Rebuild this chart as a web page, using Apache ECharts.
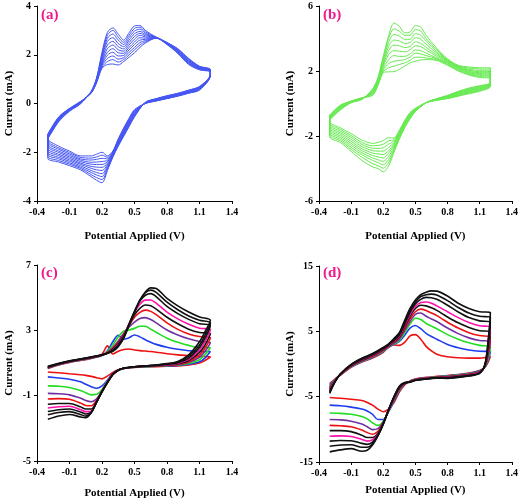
<!DOCTYPE html>
<html><head><meta charset="utf-8">
<script src="https://cdn.jsdelivr.net/npm/echarts@6/dist/echarts.min.js"></script>
<style>html,body{margin:0;padding:0;background:#fff}#c{width:521px;height:501px}</style>
</head><body><div id="c"></div>
<script>
// ---------- potentials (V) ----------
const xTicks = ['-0.4','-0.1','0.2','0.5','0.8','1.1','1.4'];
const aFwdV = [-0.3,-0.2,-0.1,0,0.1,0.15,0.2,0.25,0.3,0.35,0.4,0.45,0.5,0.55,0.6,0.7,0.8,0.9,1.0,1.1,1.2];
const aRevV = [1.2,1.1,1.0,0.9,0.8,0.7,0.6,0.5,0.45,0.4,0.35,0.3,0.25,0.2,0.15,0.1,0,-0.1,-0.2,-0.3];
const bFwdV = aFwdV, bRevV = aRevV;
const cFwdV = [-0.3,-0.2,-0.1,0,0.1,0.2,0.25,0.3,0.35,0.4,0.45,0.5,0.55,0.6,0.65,0.7,0.8,0.9,1.0,1.1,1.2];
const cRevV = [1.2,1.15,1.1,1.0,0.9,0.8,0.7,0.6,0.5,0.4,0.35,0.3,0.25,0.2,0.15,0.1,0.05,0,-0.1,-0.2,-0.3];
const dFwdV = [-0.3,-0.25,-0.2,-0.1,0,0.1,0.2,0.25,0.3,0.35,0.4,0.45,0.5,0.55,0.6,0.65,0.7,0.8,0.9,1.0,1.1,1.2];
const dRevV = [1.2,1.18,1.15,1.1,1.0,0.9,0.8,0.7,0.6,0.5,0.45,0.4,0.35,0.3,0.25,0.2,0.15,0.1,0.05,0,-0.1,-0.2,-0.3];

// ---------- panel (a) currents (mA) ----------
const aFwd = [
[-1.25,-0.55,-0.2,0.08,0.42,0.85,1.45,1.6,1.62,1.58,1.72,1.9,2.08,2.3,2.48,2.68,2.42,2.05,1.6,1.38,1.3],
[-1.27,-0.57,-0.21,0.07,0.43,0.87,1.5,1.72,1.8,1.7,1.8,2.0,2.2,2.4,2.53,2.68,2.43,2.07,1.63,1.4,1.31],
[-1.29,-0.59,-0.22,0.06,0.44,0.89,1.55,1.85,1.95,1.82,1.88,2.1,2.3,2.5,2.58,2.69,2.44,2.09,1.65,1.41,1.32],
[-1.31,-0.61,-0.23,0.05,0.45,0.91,1.6,1.98,2.1,1.95,1.97,2.2,2.42,2.6,2.63,2.69,2.45,2.11,1.68,1.43,1.33],
[-1.33,-0.63,-0.24,0.04,0.46,0.93,1.66,2.1,2.25,2.08,2.06,2.3,2.52,2.7,2.68,2.7,2.46,2.13,1.7,1.44,1.34],
[-1.35,-0.65,-0.26,0.03,0.46,0.95,1.72,2.25,2.4,2.2,2.15,2.4,2.64,2.8,2.73,2.7,2.47,2.15,1.73,1.46,1.35],
[-1.37,-0.67,-0.27,0.02,0.47,0.97,1.8,2.4,2.55,2.33,2.24,2.5,2.75,2.88,2.78,2.7,2.48,2.17,1.75,1.47,1.36],
[-1.39,-0.69,-0.28,0.01,0.48,0.99,1.88,2.55,2.7,2.46,2.33,2.6,2.86,2.96,2.83,2.71,2.49,2.19,1.78,1.49,1.37],
[-1.41,-0.71,-0.29,0.0,0.48,1.01,1.95,2.68,2.85,2.6,2.42,2.7,2.97,3.05,2.88,2.71,2.5,2.21,1.8,1.5,1.38],
[-1.43,-0.73,-0.3,-0.01,0.49,1.03,2.02,2.8,3.0,2.72,2.51,2.8,3.08,3.13,2.94,2.72,2.5,2.23,1.83,1.52,1.39],
[-1.45,-0.75,-0.32,-0.02,0.5,1.05,2.1,2.92,3.1,2.85,2.6,2.9,3.18,3.2,3.0,2.72,2.5,2.25,1.85,1.53,1.4]
];
const aRev = [
[1.15,0.55,0.42,0.3,0.2,0.1,0.0,-0.25,-0.6,-1.0,-1.45,-1.95,-2.15,-2.0,-2.08,-2.15,-2.15,-1.95,-1.75,-1.45],
[1.15,0.57,0.43,0.31,0.21,0.11,0.0,-0.28,-0.64,-1.04,-1.48,-1.98,-2.21,-2.12,-2.19,-2.24,-2.21,-2.01,-1.82,-1.53],
[1.16,0.58,0.45,0.32,0.22,0.12,0.01,-0.31,-0.67,-1.07,-1.51,-2.0,-2.27,-2.25,-2.29,-2.32,-2.27,-2.07,-1.88,-1.61],
[1.16,0.6,0.46,0.34,0.24,0.13,0.01,-0.34,-0.71,-1.11,-1.54,-2.03,-2.33,-2.38,-2.4,-2.41,-2.32,-2.13,-1.95,-1.69],
[1.17,0.61,0.47,0.35,0.25,0.14,0.02,-0.37,-0.74,-1.14,-1.57,-2.05,-2.39,-2.5,-2.5,-2.49,-2.38,-2.19,-2.01,-1.77],
[1.17,0.63,0.49,0.36,0.26,0.15,0.02,-0.4,-0.78,-1.18,-1.6,-2.08,-2.45,-2.62,-2.61,-2.58,-2.44,-2.25,-2.08,-1.85],
[1.18,0.64,0.5,0.37,0.27,0.16,0.03,-0.43,-0.81,-1.21,-1.63,-2.1,-2.51,-2.75,-2.72,-2.66,-2.49,-2.31,-2.14,-1.93],
[1.18,0.66,0.51,0.38,0.28,0.17,0.03,-0.46,-0.85,-1.25,-1.66,-2.13,-2.57,-2.88,-2.83,-2.75,-2.55,-2.37,-2.21,-2.01],
[1.19,0.67,0.52,0.4,0.3,0.18,0.04,-0.49,-0.88,-1.28,-1.69,-2.15,-2.63,-3.0,-2.93,-2.83,-2.61,-2.43,-2.27,-2.09],
[1.19,0.69,0.54,0.41,0.31,0.19,0.04,-0.52,-0.92,-1.32,-1.72,-2.18,-2.69,-3.12,-3.04,-2.92,-2.66,-2.49,-2.34,-2.17],
[1.2,0.7,0.55,0.42,0.32,0.2,0.05,-0.55,-0.95,-1.35,-1.75,-2.2,-2.75,-3.25,-3.15,-3.0,-2.72,-2.55,-2.4,-2.25]
];

// ---------- panel (b) ----------
const bFwd = [
[-0.7,-0.1,0.15,0.35,0.5,1.1,1.9,1.95,1.96,2.1,2.3,2.5,2.6,2.68,2.7,2.65,2.35,2.0,1.75,1.6,1.55],
[-0.73,-0.13,0.14,0.34,0.55,1.15,1.95,2.2,2.3,2.4,2.5,2.65,2.85,2.85,2.8,2.7,2.4,2.05,1.8,1.66,1.62],
[-0.77,-0.17,0.13,0.33,0.6,1.2,2.05,2.45,2.6,2.65,2.7,2.85,3.1,3.05,2.95,2.75,2.45,2.1,1.85,1.72,1.69],
[-0.8,-0.2,0.12,0.32,0.65,1.25,2.15,2.7,2.95,2.9,2.9,3.05,3.3,3.25,3.1,2.8,2.5,2.15,1.9,1.78,1.76],
[-0.83,-0.23,0.11,0.31,0.7,1.3,2.3,3.0,3.25,3.22,3.18,3.3,3.55,3.5,3.3,2.9,2.55,2.2,1.95,1.84,1.83],
[-0.87,-0.27,0.09,0.29,0.72,1.35,2.4,3.25,3.6,3.55,3.45,3.5,3.8,3.7,3.45,3.0,2.6,2.22,2.0,1.9,1.9],
[-0.9,-0.3,0.08,0.28,0.75,1.4,2.5,3.5,3.9,3.85,3.7,3.75,4.05,3.95,3.65,3.1,2.62,2.26,2.05,1.96,1.97],
[-0.93,-0.33,0.07,0.27,0.8,1.45,2.65,3.75,4.25,4.15,3.95,3.95,4.3,4.2,3.85,3.2,2.66,2.3,2.1,2.04,2.05],
[-0.97,-0.37,0.06,0.26,0.85,1.5,2.8,4.0,4.6,4.45,4.2,4.2,4.55,4.45,4.0,3.3,2.7,2.33,2.18,2.12,2.13],
[-1.0,-0.4,0.05,0.25,0.9,1.6,2.9,4.15,4.95,4.75,4.35,4.4,4.8,4.7,4.2,3.4,2.75,2.35,2.25,2.2,2.2]
];
const bRev = [
[1.05,0.75,0.6,0.45,0.3,0.2,0.05,-0.3,-0.55,-1.05,-1.65,-2.12,-2.1,-2.28,-2.4,-2.45,-2.25,-1.85,-1.5,-1.12],
[1.08,0.79,0.64,0.48,0.32,0.21,0.05,-0.32,-0.6,-1.1,-1.71,-2.22,-2.3,-2.5,-2.58,-2.6,-2.4,-1.97,-1.6,-1.22],
[1.1,0.83,0.68,0.52,0.34,0.22,0.05,-0.34,-0.64,-1.15,-1.77,-2.31,-2.5,-2.72,-2.76,-2.75,-2.52,-2.09,-1.7,-1.32],
[1.13,0.87,0.72,0.55,0.37,0.23,0.05,-0.37,-0.69,-1.2,-1.83,-2.41,-2.7,-2.93,-2.93,-2.9,-2.65,-2.21,-1.8,-1.42],
[1.16,0.91,0.76,0.58,0.39,0.24,0.05,-0.39,-0.73,-1.25,-1.89,-2.5,-2.9,-3.14,-3.1,-3.05,-2.78,-2.33,-1.9,-1.52],
[1.18,0.94,0.79,0.62,0.41,0.26,0.05,-0.41,-0.77,-1.3,-1.96,-2.6,-3.05,-3.35,-3.28,-3.2,-2.9,-2.45,-2.0,-1.62],
[1.21,0.98,0.83,0.65,0.43,0.27,0.05,-0.43,-0.82,-1.35,-2.02,-2.7,-3.25,-3.56,-3.46,-3.35,-3.03,-2.57,-2.1,-1.72],
[1.24,1.02,0.87,0.68,0.46,0.28,0.05,-0.46,-0.86,-1.4,-2.08,-2.8,-3.45,-3.77,-3.64,-3.5,-3.15,-2.7,-2.2,-1.83],
[1.27,1.06,0.91,0.72,0.48,0.29,0.05,-0.48,-0.91,-1.45,-2.14,-2.9,-3.65,-3.98,-3.82,-3.7,-3.3,-2.82,-2.3,-1.94],
[1.3,1.1,0.95,0.75,0.5,0.3,0.05,-0.5,-0.95,-1.5,-2.2,-3.0,-3.85,-4.2,-4.0,-3.9,-3.5,-2.95,-2.4,-2.05]
];

// ---------- panel (c) ----------
const cFwd = [
[0.66,0.88,1.04,1.16,1.28,1.55,2.05,1.55,1.72,1.83,1.86,1.8,1.76,1.73,1.7,1.66,1.57,1.5,1.45,1.4,1.38],
[0.67,0.89,1.05,1.17,1.29,1.46,1.75,2.3,2.7,2.45,2.55,2.71,2.6,2.42,2.27,2.14,1.96,1.84,1.75,1.7,1.7],
[0.68,0.9,1.06,1.18,1.3,1.47,1.7,2.1,2.6,2.95,3.02,3.12,3.25,3.25,3.07,2.88,2.52,2.27,2.08,1.95,1.95],
[0.69,0.91,1.07,1.19,1.31,1.47,1.65,1.95,2.35,2.8,3.2,3.5,3.72,3.78,3.66,3.46,3.02,2.72,2.48,2.32,2.25],
[0.7,0.92,1.08,1.2,1.32,1.48,1.63,1.9,2.25,2.75,3.3,3.8,4.1,4.24,4.16,3.96,3.46,3.06,2.78,2.62,2.55],
[0.72,0.93,1.09,1.21,1.33,1.48,1.62,1.85,2.2,2.7,3.35,3.95,4.35,4.55,4.5,4.3,3.8,3.4,3.07,2.87,2.8],
[0.73,0.94,1.1,1.22,1.34,1.49,1.61,1.8,2.15,2.65,3.4,4.1,4.6,4.85,4.86,4.66,4.12,3.7,3.37,3.13,3.05],
[0.75,0.95,1.11,1.23,1.35,1.49,1.6,1.78,2.1,2.6,3.4,4.15,4.8,5.15,5.25,5.07,4.46,4.02,3.67,3.4,3.3],
[0.77,0.96,1.12,1.24,1.36,1.5,1.6,1.75,2.05,2.55,3.35,4.15,4.85,5.3,5.46,5.32,4.72,4.26,3.88,3.62,3.45],
[0.8,0.98,1.13,1.25,1.37,1.5,1.6,1.72,2.0,2.5,3.3,4.1,4.85,5.35,5.6,5.56,4.96,4.5,4.12,3.82,3.62]
];
const cRev = [
[1.38,1.15,1.0,0.88,0.82,0.8,0.78,0.76,0.73,0.66,0.58,0.42,0.2,0.03,0.1,0.18,0.24,0.28,0.34,0.4,0.45],
[1.7,1.3,1.08,0.92,0.85,0.82,0.8,0.77,0.74,0.66,0.56,0.35,-0.05,-0.4,-0.55,-0.45,-0.3,-0.15,0.0,0.08,0.15],
[1.95,1.5,1.2,0.97,0.88,0.84,0.81,0.78,0.74,0.66,0.56,0.33,-0.12,-0.62,-0.92,-0.95,-0.82,-0.68,-0.5,-0.42,-0.4],
[2.25,1.7,1.35,1.03,0.9,0.85,0.82,0.79,0.75,0.67,0.56,0.32,-0.15,-0.7,-1.2,-1.37,-1.3,-1.15,-0.95,-0.88,-0.86],
[2.55,1.9,1.5,1.08,0.92,0.86,0.83,0.8,0.76,0.68,0.56,0.31,-0.17,-0.73,-1.3,-1.62,-1.6,-1.45,-1.22,-1.18,-1.2],
[2.8,2.1,1.65,1.15,0.95,0.88,0.84,0.8,0.76,0.68,0.56,0.31,-0.18,-0.74,-1.35,-1.82,-1.82,-1.68,-1.48,-1.48,-1.53],
[3.05,2.3,1.8,1.22,0.98,0.9,0.85,0.81,0.77,0.68,0.56,0.3,-0.19,-0.75,-1.38,-1.95,-1.98,-1.85,-1.65,-1.68,-1.76],
[3.3,2.5,1.95,1.3,1.02,0.92,0.86,0.82,0.77,0.68,0.56,0.3,-0.2,-0.76,-1.4,-2.02,-2.12,-2.0,-1.82,-1.86,-1.97],
[3.45,2.7,2.1,1.4,1.06,0.94,0.87,0.82,0.77,0.68,0.56,0.3,-0.2,-0.76,-1.4,-2.05,-2.25,-2.15,-1.98,-2.03,-2.17],
[3.62,2.9,2.3,1.5,1.1,0.96,0.88,0.83,0.77,0.68,0.56,0.3,-0.2,-0.76,-1.4,-2.05,-2.35,-2.3,-2.15,-2.25,-2.45]
];

// ---------- panel (d) ----------
const dFwd = [
[-3.0,-2.3,-1.7,-0.5,0.3,0.9,1.8,2.55,2.9,2.85,3.3,4.3,4.5,3.8,2.7,2.0,1.5,1.1,0.95,0.9,0.9,1.15],
[-3.2,-2.35,-1.68,-0.45,0.35,0.98,1.9,2.6,3.0,3.45,4.4,5.5,5.9,5.4,4.7,4.2,3.8,3.0,2.5,2.15,1.95,1.9],
[-3.4,-2.4,-1.66,-0.4,0.4,1.05,1.98,2.65,3.1,3.6,4.8,6.1,7.0,6.8,6.2,5.8,5.4,4.5,3.8,3.25,2.85,2.65],
[-3.55,-2.45,-1.64,-0.35,0.46,1.12,2.05,2.7,3.2,3.8,5.1,6.5,7.6,7.8,7.3,6.9,6.5,5.5,4.65,4.0,3.6,3.4],
[-3.7,-2.5,-1.62,-0.3,0.52,1.2,2.12,2.75,3.3,4.0,5.4,6.9,8.0,8.4,8.2,7.8,7.4,6.4,5.5,4.8,4.35,4.15],
[-3.85,-2.55,-1.6,-0.25,0.58,1.28,2.2,2.8,3.4,4.15,5.7,7.3,8.5,9.0,8.9,8.6,8.2,7.2,6.3,5.6,5.1,4.9],
[-4.0,-2.6,-1.58,-0.2,0.65,1.36,2.28,2.87,3.5,4.3,5.9,7.6,8.8,9.4,9.5,9.3,8.9,8.0,7.1,6.35,5.85,5.65],
[-4.15,-2.65,-1.55,-0.15,0.72,1.44,2.36,2.94,3.6,4.45,6.1,7.9,9.2,9.9,10.2,10.15,9.9,9.0,7.95,7.1,6.6,6.4],
[-4.3,-2.7,-1.52,-0.1,0.8,1.52,2.44,3.02,3.75,4.6,6.4,8.2,9.5,10.3,10.6,10.7,10.55,9.7,8.65,7.8,7.3,7.15],
[-4.5,-2.75,-1.5,-0.05,0.88,1.6,2.55,3.1,3.9,4.8,6.7,8.5,9.8,10.6,11.0,11.2,11.15,10.4,9.3,8.5,8.0,7.9]
];
const dRev = [
[1.15,0.3,-0.5,-1.0,-1.4,-1.6,-1.75,-1.9,-2.05,-2.3,-2.6,-3.2,-4.3,-5.9,-6.9,-7.3,-6.9,-6.3,-5.9,-5.6,-5.4,-5.25,-5.13],
[1.9,0.6,-0.5,-1.05,-1.45,-1.65,-1.8,-1.95,-2.1,-2.35,-2.62,-3.1,-4.1,-5.7,-7.3,-8.5,-8.5,-7.7,-7.2,-6.9,-6.6,-6.4,-6.3],
[2.65,0.9,-0.45,-1.1,-1.5,-1.7,-1.85,-2.0,-2.15,-2.38,-2.64,-3.05,-4.0,-5.5,-7.2,-8.8,-9.4,-9.0,-8.4,-8.05,-7.7,-7.55,-7.5],
[3.4,1.3,-0.4,-1.15,-1.55,-1.75,-1.9,-2.02,-2.18,-2.4,-2.66,-3.0,-3.9,-5.4,-7.15,-8.9,-9.9,-10.05,-9.6,-9.2,-8.75,-8.55,-8.5],
[4.15,1.7,-0.35,-1.2,-1.6,-1.8,-1.95,-2.05,-2.2,-2.42,-2.68,-3.0,-3.8,-5.3,-7.1,-9.0,-10.3,-10.75,-10.5,-10.1,-9.6,-9.45,-9.4],
[4.9,2.1,-0.3,-1.25,-1.65,-1.85,-2.0,-2.08,-2.22,-2.44,-2.7,-2.95,-3.7,-5.2,-7.05,-9.05,-10.6,-11.25,-11.25,-10.9,-10.35,-10.2,-10.2],
[5.65,2.5,-0.25,-1.3,-1.7,-1.9,-2.05,-2.1,-2.24,-2.46,-2.72,-2.95,-3.6,-5.15,-7.0,-9.1,-10.8,-11.6,-11.8,-11.55,-11.1,-11.0,-11.05],
[6.4,2.9,-0.2,-1.35,-1.75,-1.95,-2.1,-2.12,-2.26,-2.48,-2.74,-2.9,-3.55,-5.1,-7.0,-9.15,-10.9,-11.95,-12.3,-12.15,-11.75,-11.7,-11.8],
[7.15,3.3,-0.1,-1.4,-1.8,-2.0,-2.15,-2.15,-2.28,-2.5,-2.76,-2.9,-3.5,-5.05,-7.0,-9.2,-10.95,-12.2,-12.75,-12.75,-12.35,-12.4,-12.6],
[7.9,3.7,0.0,-1.45,-1.85,-2.05,-2.2,-2.18,-2.3,-2.52,-2.78,-2.85,-3.4,-5.0,-7.0,-9.2,-11.0,-12.4,-13.2,-13.35,-12.95,-13.15,-13.45]
];

const cdColors = ['#ee1111','#1f3df0','#22dd22','#7030a0','#ee1111','#111111','#ff11aa','#111111','#111111','#111111'];
const panelLabels = ['(a)','(b)','(c)','(d)'];

const SERIF = '"Liberation Serif","DejaVu Serif",serif';
function build(fx, rx, f, r, close) {
  const pts = fx.map((x, i) => [x, f[i]]);
  rx.forEach((x, i) => pts.push([x, r[i]]));
  if (close) pts.push([fx[0], f[0]]);
  return pts;
}
const grids = [
  {left: 37, top: 6, width: 195, height: 195},
  {left: 319, top: 6, width: 195, height: 195},
  {left: 37, top: 265, width: 195, height: 196},
  {left: 319, top: 266, width: 195, height: 196}
];
const yCfg = [
  {min: -4, max: 4, interval: 2, gap: 22},
  {min: -6, max: 6, interval: 4, gap: 23},
  {min: -5, max: 7, interval: 4, gap: 22},
  {min: -15, max: 15, interval: 10, gap: 20}
];
const xGap = [30, 30, 27, 23];
const axisCommon = {
  axisLine: {onZero: false, lineStyle: {color: '#000', width: 1}},
  axisTick: {show: true, inside: false, length: 3, lineStyle: {color: '#000'}},
  splitLine: {show: false},
  axisLabel: {color: '#000', fontFamily: SERIF, fontWeight: 'bold', fontSize: 10, margin: 6},
  nameTextStyle: {color: '#000', fontFamily: SERIF, fontWeight: 'bold', fontSize: 11}
};
const xAxis = grids.map((g, i) => Object.assign({}, axisCommon, {
  type: 'value', gridIndex: i, min: -0.4, max: 1.4, interval: 0.3,
  name: 'Potential Applied (V)', nameLocation: 'middle', nameGap: xGap[i],
  axisLabel: Object.assign({}, axisCommon.axisLabel, {formatter: v => (Math.round(v * 10) / 10).toFixed(1)})
}));
const yAxis = grids.map((g, i) => Object.assign({}, axisCommon, {
  type: 'value', gridIndex: i, min: yCfg[i].min, max: yCfg[i].max, interval: yCfg[i].interval,
  name: 'Current (mA)', nameLocation: 'middle', nameGap: yCfg[i].gap
}));
const series = [];
function addPanel(idx, fx, rx, F, R, colorFn, width, close) {
  F.forEach((f, k) => {
    series.push({
      type: 'line', xAxisIndex: idx, yAxisIndex: idx, showSymbol: false, smooth: 0.3,
      data: build(fx, rx, f, R[k], close), lineStyle: {color: colorFn(k), width: width},
      silent: true, animation: false, z: 2 + k
    });
  });
}
addPanel(0, aFwdV, aRevV, aFwd, aRev, () => '#4656f2', 1, true);
addPanel(1, bFwdV, bRevV, bFwd, bRev, () => '#66ea50', 1, true);
addPanel(2, cFwdV, cRevV, cFwd, cRev, k => cdColors[k], 1.6, false);
addPanel(3, dFwdV, dRevV, dFwd, dRev, k => cdColors[k], 1.6, false);

const labelPos = [[41, 8], [323, 8], [41, 266], [323, 266]];
const title = panelLabels.map((t, i) => ({
  text: t, left: labelPos[i][0], top: labelPos[i][1], padding: 0,
  textStyle: {color: '#f0168c', fontFamily: SERIF, fontWeight: 'bold', fontSize: 15}
}));

const chart = echarts.init(document.getElementById('c'), null, {renderer: 'canvas'});
chart.setOption({animation: false, backgroundColor: '#fff', title, grid: grids, xAxis, yAxis, series});
</script></body></html>
